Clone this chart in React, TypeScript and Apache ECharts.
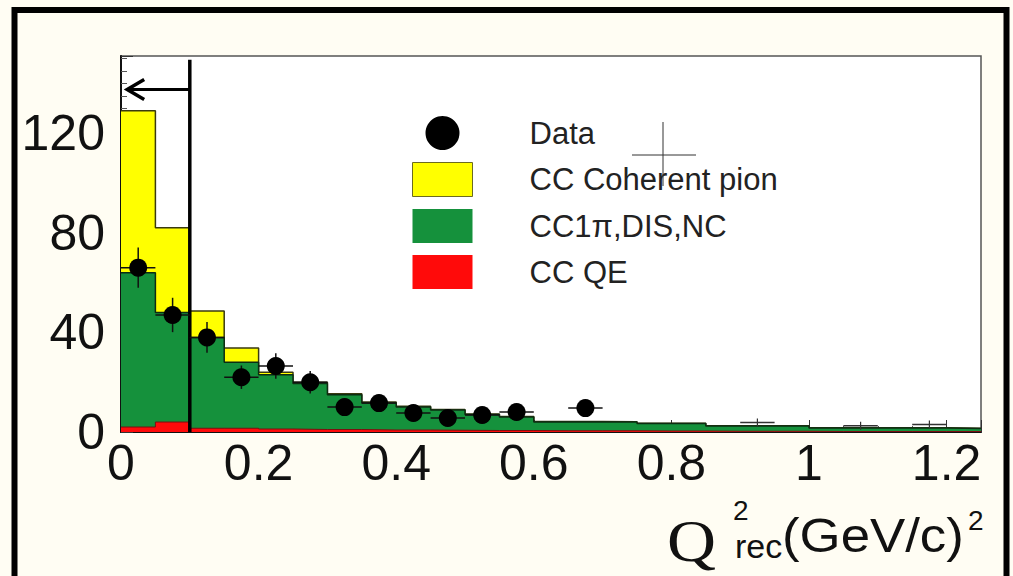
import React, { useEffect, useRef } from "react";
import * as echarts from "echarts";

// Histogram bin edges (Q^2_rec, (GeV/c)^2)
const binEdges = [0, 0.05, 0.1, 0.15, 0.2, 0.25, 0.3, 0.35, 0.4, 0.45, 0.5, 0.55, 0.6, 0.65, 0.7, 0.75, 0.8, 0.85, 0.9, 0.95, 1.0, 1.05, 1.1, 1.15, 1.2, 1.25];
// MC components per bin
const ccQE = [2, 4, 1.5, 1.5, 1.2, 1, 1, 0.8, 0.8, 0.7, 0.6, 0.6, 0.5, 0.5, 0.5, 0.4, 0.4, 0.3, 0.3, 0.3, 0.2, 0.2, 0.2, 0.2, 0.2];
const cc1piDisNc = [62, 44, 36.5, 26.5, 21.8, 18.5, 14, 10.8, 9.2, 8.1, 6.4, 5.4, 3.5, 3.5, 3.5, 3.0, 3.0, 2.1, 2.1, 2.1, 1.4, 1.4, 1.4, 1.4, 1.2];
const ccCoherent = [65, 34, 10.6, 5.7, 1, 0.5, 0.4, 0.4, 0.3, 0.2, 0.2, 0.2, 0.2, 0.2, 0.1, 0.1, 0.1, 0.1, 0.1, 0.1, 0.1, 0.1, 0.1, 0.1, 0.1];
// Data points
const dataX = [0.025, 0.075, 0.125, 0.175, 0.225, 0.275, 0.325, 0.375, 0.425, 0.475, 0.525, 0.575, 0.675];
const dataY = [66, 47, 38, 22, 26.5, 20, 10, 11.6, 7.6, 5.6, 6.8, 8, 9.6];
const dataErr = [8.1, 6.9, 6.2, 4.7, 5.1, 4.5, 3.2, 3.4, 2.8, 2.4, 2.6, 2.8, 3.1];
// Small error marks without markers
const markX = [0.925, 1.075, 1.175];
const markY = [3.8, 2.5, 3];
// Cut: Q^2 < 0.1, arrow level
const cutValue = 0.1;
const arrowLevel = 137.5;
const arrowTip = 0.009;
const cutTop = 149.5;

const legendNames = ["Data", "CC Coherent pion", "CC1\u03c0,DIS,NC", "CC QE"];

const FONT = "'Liberation Sans', Arial, Helvetica, sans-serif";
const SERIF = "'Liberation Serif', 'Times New Roman', serif";

function stepData(vals: number[]) {
  const out: number[][] = [];
  for (let i = 0; i < vals.length; i++) out.push([binEdges[i], vals[i]]);
  out.push([binEdges[vals.length], vals[vals.length - 1]]);
  return out;
}

export default function App() {
  const ref = useRef<HTMLDivElement>(null);
  useEffect(() => {
    if (!ref.current) return;
    const chart = echarts.init(ref.current, undefined, { renderer: "svg" });
    const red = ccQE.slice();
    const green = ccQE.map((v, i) => v + cc1piDisNc[i]);
    const total = green.map((v, i) => v + ccCoherent[i]);
    const halfBin = 0.025;

    const option: any = {
      animation: false,
      backgroundColor: "#fffdf3",
      grid: {
        left: 121,
        right: 32,
        top: 56,
        bottom: 144,
        show: true,
        backgroundColor: "#ffffff",
        borderColor: "#555",
        borderWidth: 1.5,
      },
      legend: {
        left: 407,
        top: 111,
        orient: "vertical",
        itemWidth: 60,
        itemHeight: 34,
        itemGap: 12,
        selectedMode: false,
        textStyle: { fontFamily: FONT, fontSize: 31, color: "#222", padding: [0, 0, 0, 52] },
        data: [
          { name: legendNames[0], icon: "circle", itemStyle: { color: "#000" } },
          { name: legendNames[1], icon: "rect", itemStyle: { color: "#ffff00", borderColor: "#6b6b20", borderWidth: 1 } },
          { name: legendNames[2], icon: "rect", itemStyle: { color: "#15913c", borderWidth: 0 } },
          { name: legendNames[3], icon: "rect", itemStyle: { color: "#ff0a0a", borderWidth: 0 } },
        ],
      },
      xAxis: {
        type: "value",
        min: 0,
        max: 1.25,
        interval: 0.2,
        axisLine: { show: true, onZero: false, lineStyle: { color: "#111", width: 2 } },
        axisTick: { show: true, inside: true, length: 12, lineStyle: { color: "#333", width: 1 } },
        minorTick: { show: true, splitNumber: 4, length: 6, lineStyle: { color: "#555", width: 1 } },
        splitLine: { show: false },
        axisLabel: { fontFamily: FONT, fontSize: 50, color: "#111", margin: 6, showMaxLabel: false },
      },
      yAxis: {
        type: "value",
        min: 0,
        max: 151,
        interval: 40,
        axisLine: { show: true, onZero: false, lineStyle: { color: "#111", width: 2 } },
        axisTick: { show: true, inside: true, length: 12, lineStyle: { color: "#333", width: 1 } },
        minorTick: { show: true, splitNumber: 8, length: 6, lineStyle: { color: "#555", width: 1 } },
        splitLine: { show: false },
        axisLabel: { fontFamily: FONT, fontSize: 50, color: "#111", margin: 16, showMaxLabel: false },
      },
      series: [
        {
          name: legendNames[1],
          type: "line",
          step: "end",
          symbol: "none",
          data: stepData(total),
          itemStyle: { color: "#ffff00" },
          lineStyle: { color: "#3a3a10", width: 1.5 },
          areaStyle: { color: "#ffff00", opacity: 1 },
          z: 2,
        },
        {
          name: legendNames[2],
          type: "line",
          step: "end",
          symbol: "none",
          data: stepData(green),
          itemStyle: { color: "#15913c" },
          lineStyle: { color: "#0d2d12", width: 1.5 },
          areaStyle: { color: "#15913c", opacity: 1 },
          z: 3,
        },
        {
          name: legendNames[3],
          type: "line",
          step: "end",
          symbol: "none",
          data: stepData(red),
          itemStyle: { color: "#ff0a0a" },
          lineStyle: { color: "#7a1010", width: 1 },
          areaStyle: { color: "#ff0a0a", opacity: 1 },
          z: 4,
        },
        {
          name: "cut",
          type: "custom",
          z: 6,
          silent: true,
          data: [[cutValue, arrowLevel, arrowTip, cutTop]],
          encode: { x: 0, y: 1 },
          renderItem: (params: any, api: any) => {
            const cx = api.value(0);
            const ay = api.value(1);
            const tip = api.value(2);
            const top = api.value(3);
            const base = api.coord([cx, 0]);
            const topP = api.coord([cx, top]);
            const a0 = api.coord([cx, ay]);
            const a1 = api.coord([tip, ay]);
            return {
              type: "group",
              children: [
                { type: "line", shape: { x1: base[0], y1: base[1], x2: topP[0], y2: topP[1] }, style: { stroke: "#000", lineWidth: 3.5 } },
                { type: "line", shape: { x1: a0[0], y1: a0[1], x2: a1[0], y2: a1[1] }, style: { stroke: "#000", lineWidth: 3 } },
                {
                  type: "polyline",
                  shape: { points: [[a1[0] + 17, a1[1] - 10], [a1[0], a1[1]], [a1[0] + 17, a1[1] + 10]] },
                  style: { stroke: "#000", lineWidth: 3.5, fill: "none" },
                },
              ],
            };
          },
        },
        {
          name: "marks",
          type: "custom",
          z: 7,
          silent: true,
          data: markX.map((x, i) => [x, markY[i]]),
          encode: { x: 0, y: 1 },
          renderItem: (params: any, api: any) => {
            const x = api.value(0);
            const y = api.value(1);
            const c = api.coord([x, y]);
            const l = api.coord([x - halfBin, y]);
            const r = api.coord([x + halfBin, y]);
            return {
              type: "group",
              children: [
                { type: "line", shape: { x1: l[0], y1: c[1], x2: r[0], y2: c[1] }, style: { stroke: "#333", lineWidth: 1.5 } },
                { type: "line", shape: { x1: c[0], y1: c[1] - 4, x2: c[0], y2: c[1] + 4 }, style: { stroke: "#333", lineWidth: 1.2 } },
              ],
            };
          },
        },
        {
          name: legendNames[0],
          type: "custom",
          z: 8,
          itemStyle: { color: "#000" },
          data: dataX.map((x, i) => [x, dataY[i], dataErr[i]]),
          encode: { x: 0, y: 1 },
          renderItem: (params: any, api: any) => {
            const x = api.value(0);
            const y = api.value(1);
            const e = api.value(2);
            const c = api.coord([x, y]);
            const l = api.coord([x - halfBin, y]);
            const r = api.coord([x + halfBin, y]);
            const t = api.coord([x, y + e]);
            const b = api.coord([x, y - e]);
            return {
              type: "group",
              children: [
                { type: "line", shape: { x1: l[0], y1: c[1], x2: r[0], y2: c[1] }, style: { stroke: "#111", lineWidth: 1.5 } },
                { type: "line", shape: { x1: c[0], y1: t[1], x2: c[0], y2: b[1] }, style: { stroke: "#111", lineWidth: 1.5 } },
                { type: "circle", shape: { cx: c[0], cy: c[1], r: 9 }, style: { fill: "#000" } },
              ],
            };
          },
        },
      ],
      graphic: [
        {
          type: "rect",
          shape: { x: 14.5, y: 10, width: 992, height: 620 },
          style: { fill: "none", stroke: "#000", lineWidth: 6 },
          z: 100,
          silent: true,
        },
        {
          type: "line",
          shape: { x1: 663, y1: 122, x2: 663, y2: 186 },
          style: { stroke: "#333", lineWidth: 1 },
          z: 100,
        },
        {
          type: "line",
          shape: { x1: 632, y1: 155, x2: 696, y2: 155 },
          style: { stroke: "#333", lineWidth: 1 },
          z: 100,
        },
        {
          type: "text",
          x: 667,
          y: 541,
          scaleX: 1.15,
          style: { text: "Q", fontFamily: SERIF, fontSize: 59, fill: "#111", verticalAlign: "middle", align: "left" },
          z: 100,
        },
        {
          type: "text",
          x: 733,
          y: 510,
          style: { text: "2", fontFamily: FONT, fontSize: 28, fill: "#111", verticalAlign: "middle", align: "left" },
          z: 100,
        },
        {
          type: "text",
          x: 735,
          y: 546,
          style: { text: "rec", fontFamily: FONT, fontSize: 34, fill: "#111", verticalAlign: "middle", align: "left" },
          z: 100,
        },
        {
          type: "text",
          x: 782,
          y: 535,
          scaleX: 1.1,
          style: { text: "(GeV/c)", fontFamily: FONT, fontSize: 48, fill: "#111", verticalAlign: "middle", align: "left" },
          z: 100,
        },
        {
          type: "text",
          x: 968,
          y: 520,
          style: { text: "2", fontFamily: FONT, fontSize: 28, fill: "#111", verticalAlign: "middle", align: "left" },
          z: 100,
        },
      ],
    };
    chart.setOption(option);
    return () => chart.dispose();
  }, []);
  return <div ref={ref} style={{ position: "fixed", left: 0, top: 0, width: 1013, height: 576 }} />;
}
